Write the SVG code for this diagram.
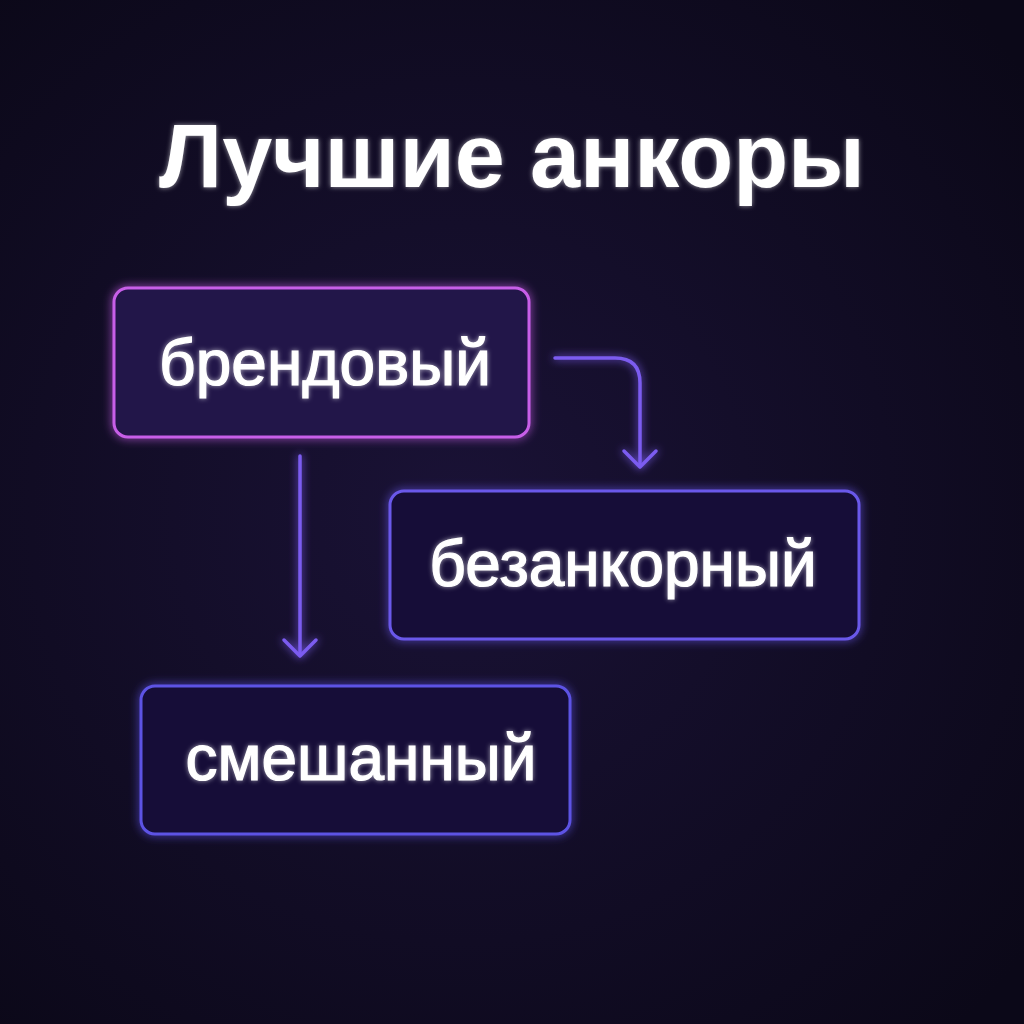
<svg xmlns="http://www.w3.org/2000/svg" width="1024" height="1024" viewBox="0 0 1024 1024">
  <defs>
    <radialGradient id="bg" cx="0.45" cy="0.5" r="0.7">
      <stop offset="0" stop-color="#1a1236"/>
      <stop offset="1" stop-color="#0b0818"/>
    </radialGradient>
    <filter id="glow" x="-20%" y="-30%" width="140%" height="160%">
      <feGaussianBlur in="SourceGraphic" stdDeviation="5" result="b"/>
      <feMerge><feMergeNode in="b"/><feMergeNode in="SourceGraphic"/></feMerge>
    </filter>
    <filter id="cglow" filterUnits="userSpaceOnUse" x="0" y="0" width="1024" height="1024">
      <feGaussianBlur in="SourceGraphic" stdDeviation="4" result="b"/>
      <feMerge><feMergeNode in="b"/><feMergeNode in="SourceGraphic"/></feMerge>
    </filter>
    <filter id="tglow" x="-10%" y="-30%" width="120%" height="160%">
      <feGaussianBlur in="SourceGraphic" stdDeviation="2.5" result="b"/>
      <feComponentTransfer in="b" result="b2"><feFuncA type="linear" slope="0.6"/></feComponentTransfer>
      <feMerge><feMergeNode in="b2"/><feMergeNode in="SourceGraphic"/></feMerge>
    </filter>
    <style>
      .title { font-family: "Liberation Sans", Arial, sans-serif; font-weight: 700; font-size: 90px; fill: #ffffff; }
      .label { font-family: "Liberation Sans", Arial, sans-serif; font-size: 64px; fill: #ffffff; stroke: #ffffff; stroke-width: 1.2; }
      .box { stroke-width: 3; }
      .conn { fill: none; stroke: #7b5cf0; stroke-width: 3.5; stroke-linecap: round; stroke-linejoin: round; }
    </style>
  </defs>
  <rect width="1024" height="1024" fill="url(#bg)"/>

  <text class="title" x="512" y="187" text-anchor="middle" filter="url(#tglow)">Лучшие анкоры</text>

  <g id="connectors" filter="url(#cglow)">
    <path class="conn" d="M555 358 H615 Q640 358 640 383 V466"/>
    <path class="conn" d="M624 451 L640 467 L656 451"/>
    <path class="conn" d="M300 456 V655"/>
    <path class="conn" d="M284 640 L300 656 L316 640"/>
  </g>

  <g id="node-brand">
    <rect class="box" x="114" y="288" width="415" height="149" rx="14" fill="#23134a" stroke="#c75ee8" filter="url(#glow)"/>
    <text class="label" x="325" y="385" text-anchor="middle" filter="url(#tglow)">брендовый</text>
  </g>

  <g id="node-bezankor">
    <rect class="box" x="390" y="491" width="469" height="148" rx="14" fill="#141039" stroke="#6a58ea" filter="url(#glow)"/>
    <text class="label" x="623" y="586" text-anchor="middle" filter="url(#tglow)">безанкорный</text>
  </g>

  <g id="node-mixed">
    <rect class="box" x="141" y="686" width="429" height="148" rx="14" fill="#131038" stroke="#5d52e4" filter="url(#glow)"/>
    <text class="label" x="361" y="780" text-anchor="middle" filter="url(#tglow)">смешанный</text>
  </g>
</svg>
